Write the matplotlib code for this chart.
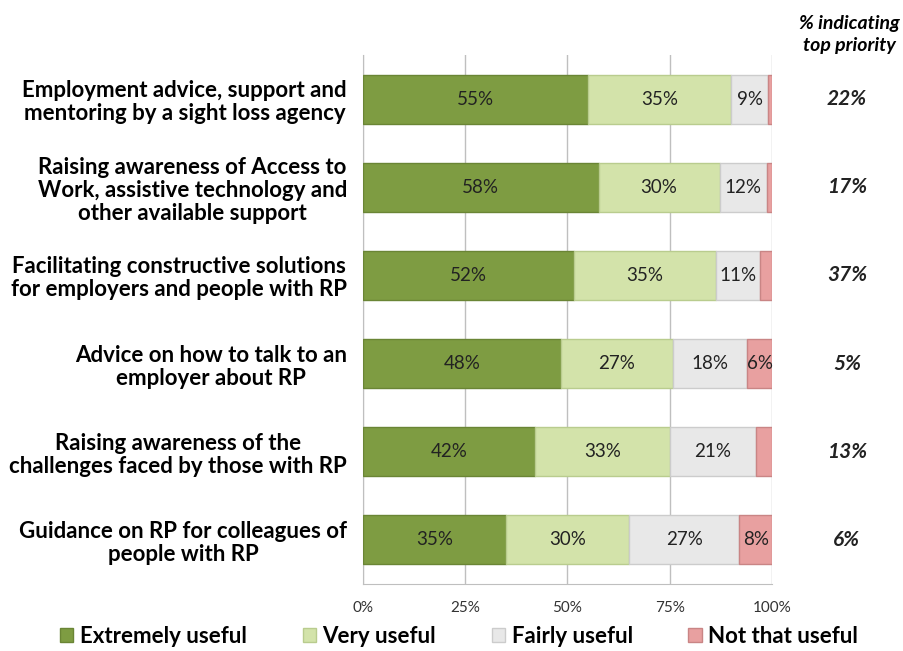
import matplotlib
matplotlib.use("Agg")
import matplotlib.pyplot as plt
import numpy as np

categories = [
    "Employment advice, support and\nmentoring by a sight loss agency",
    "Raising awareness of Access to\nWork, assistive technology and\nother available support",
    "Facilitating constructive solutions\nfor employers and people with RP",
    "Advice on how to talk to an\nemployer about RP",
    "Raising awareness of the\nchallenges faced by those with RP",
    "Guidance on RP for colleagues of\npeople with RP",
]
series_names = ["Extremely useful", "Very useful", "Fairly useful", "Not that useful"]
extremely = [55, 57.6, 51.6, 48.4, 42, 35]
very = [35, 29.6, 34.6, 27.3, 33, 30]
fairly = [9, 11.6, 10.8, 18.2, 21, 27]
not_that = [1, 1.2, 3.0, 6.1, 4, 8]
top_priority = ["22%", "17%", "37%", "5%", "13%", "6%"]
xticks = [0, 25, 50, 75, 100]
xtick_labels = ["0%", "25%", "50%", "75%", "100%"]

colors = ["#7E9C42", "#D3E3AA", "#E8E8E8", "#E8A0A0"]
edges = ["#6A8535", "#B9CC8E", "#CCCCCC", "#C98585"]

plt.rcParams['font.family'] = ['Lato', 'DejaVu Sans']

fig = plt.figure(figsize=(9.04, 6.51), dpi=100)
ax = fig.add_axes([0.4015, 0.1029, 0.4525, 0.8126])

n = len(categories)
y = np.arange(n)
data = [extremely, very, fairly, not_that]
left = np.zeros(n)
handles = []
for vals, c, ec, name in zip(data, colors, edges, series_names):
    vals = np.array(vals, dtype=float)
    b = ax.barh(y, vals, left=left, height=0.555, color=c, edgecolor=ec,
                linewidth=1.0, label=name, zorder=3)
    handles.append(b)
    for yi, (l, v) in enumerate(zip(left, vals)):
        if v >= 5:
            ax.text(l + v / 2, yi, f"{round(v):.0f}%", ha="center", va="center",
                    fontsize=13.5, color="#222222", zorder=4)
    left += vals

ax.set_xlim(0, 100)
ax.set_ylim(n - 0.5, -0.5)
ax.set_yticks(y)
ax.set_yticklabels(categories, fontsize=16, fontweight="bold", linespacing=1.12,
                   multialignment="center")
ax.tick_params(axis="y", length=0, pad=11.5)
ax.set_xticks(xticks)
ax.set_xticklabels(xtick_labels, fontsize=11, color="#333333")
ax.tick_params(axis="x", length=0, pad=12)
ax.grid(axis="x", color="#BFBFBF", linewidth=1.0, zorder=0)
for s in ["top", "right"]:
    ax.spines[s].set_visible(False)
for s in ["left", "bottom"]:
    ax.spines[s].set_color("#BFBFBF")

for yi, t in enumerate(top_priority):
    ax.text(1.183, yi, t, transform=ax.get_yaxis_transform(), ha="center", va="center",
            fontsize=15, fontweight="bold", fontstyle="italic", color="#222222")

fig.text(0.94, 0.947, "% indicating\ntop priority", ha="center", va="center",
         fontsize=14, fontweight="bold", fontstyle="italic", linespacing=1.3)

fig.legend(handles=handles, labels=series_names, loc="center", ncol=4,
           bbox_to_anchor=(0.508, 0.022), frameon=False,
           prop={"weight": "bold", "size": 16}, handlelength=0.6, handleheight=0.6,
           handletextpad=0.3, columnspacing=2.5)

fig.savefig("out.png", dpi=100)
